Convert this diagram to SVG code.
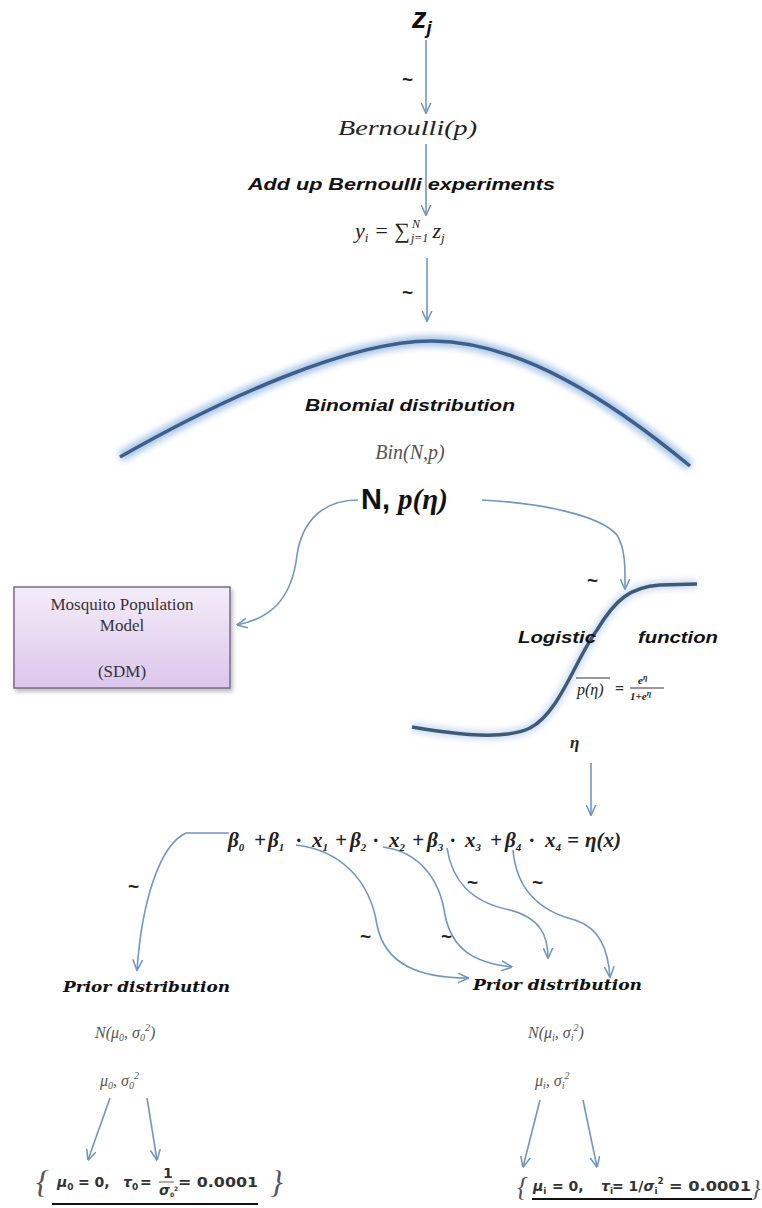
<svg xmlns="http://www.w3.org/2000/svg" width="762" height="1208" viewBox="0 0 762 1208">
<defs>
<style>
.con{fill:none;stroke:#6f97c2;stroke-width:1.6}
.bi{font-family:"Liberation Sans",Arial,sans-serif;font-weight:bold;font-style:italic;fill:#111}
.ms{font-family:"Liberation Serif","Times New Roman",serif;font-style:italic;fill:#222}
.gr{font-family:"Liberation Serif","Times New Roman",serif;font-style:italic;fill:#555}
.pr{font-family:"DejaVu Serif",serif;font-weight:bold;font-style:italic;fill:#111}
.til{font-family:"Liberation Sans",Arial,sans-serif;font-weight:bold;font-size:19px;fill:#222}
.eq{font-family:"Liberation Serif","Times New Roman",serif;font-weight:bold;font-style:italic;font-size:21px;fill:#222}
.sub{font-size:11px}
.bx{font-family:"Liberation Serif","Times New Roman",serif;font-size:17px;fill:#333}
.hp{font-family:"Liberation Serif","Times New Roman",serif;font-size:16px;fill:#333;font-weight:bold}
.hs{font-family:"DejaVu Sans",sans-serif;font-size:14px;fill:#333;font-weight:bold}
</style>
<marker id="ah" viewBox="0 0 10 10" refX="9.5" refY="5" markerWidth="11" markerHeight="11" markerUnits="userSpaceOnUse" orient="auto">
<path d="M0,0.5 L10,5 L0,9.5" fill="none" stroke="#6f97c2" stroke-width="1.4"/>
</marker>
<linearGradient id="boxg" x1="0" y1="0" x2="0" y2="1">
<stop offset="0" stop-color="#f4ecf8"/>
<stop offset="1" stop-color="#dcc6ec"/>
</linearGradient>
<filter id="glow" x="-10%" y="-30%" width="120%" height="160%">
<feGaussianBlur stdDeviation="3"/>
</filter>
<filter id="shd" x="-10%" y="-10%" width="130%" height="130%">
<feDropShadow dx="2" dy="3" stdDeviation="2" flood-color="#777" flood-opacity="0.5"/>
</filter>
</defs>
<rect width="762" height="1208" fill="#ffffff"/>

<g id="connectors">
<line class="con" x1="426" y1="40" x2="426" y2="113" marker-end="url(#ah)"/>
<line class="con" x1="426" y1="144" x2="426" y2="215" marker-end="url(#ah)"/>
<line class="con" x1="427" y1="258" x2="427" y2="321" marker-end="url(#ah)"/>
<path class="con" d="M358,500 C322,500 302,522 297,555 C292,598 272,618 237,625" marker-end="url(#ah)"/>
<path class="con" d="M482,500 C540,503 600,515 617,535 C626,550 625,570 625,589" marker-end="url(#ah)"/>
<line class="con" x1="591" y1="763" x2="591" y2="815" marker-end="url(#ah)"/>
<path class="con" d="M229,833 L186,833 C160,845 142,900 137,970" marker-end="url(#ah)"/>
<path class="con" d="M296,845 C340,850 370,880 377,925 C385,965 420,978 468,978" marker-end="url(#ah)"/>
<path class="con" d="M383,847 C420,852 440,880 445,915 C452,950 475,963 512,967" marker-end="url(#ah)"/>
<path class="con" d="M447,848 C452,880 470,902 510,910 C540,918 548,935 548,958" marker-end="url(#ah)"/>
<path class="con" d="M513,850 C516,885 535,910 575,920 C600,928 608,950 610,977" marker-end="url(#ah)"/>
<line class="con" x1="110" y1="1098" x2="88" y2="1160" marker-end="url(#ah)"/>
<line class="con" x1="147" y1="1098" x2="157" y2="1160" marker-end="url(#ah)"/>
<line class="con" x1="540" y1="1100" x2="523" y2="1167" marker-end="url(#ah)"/>
<line class="con" x1="583" y1="1100" x2="597" y2="1167" marker-end="url(#ah)"/>
</g>

<g id="tildes">
<text class="til" x="402" y="86">~</text>
<text class="til" x="402" y="299">~</text>
<text class="til" x="587" y="587">~</text>
<text class="til" x="128" y="893">~</text>
<text class="til" x="360" y="943">~</text>
<text class="til" x="441" y="943">~</text>
<text class="til" x="467" y="889">~</text>
<text class="til" x="532" y="889">~</text>
</g>

<g id="n-zj">
<text class="bi" x="412" y="28" font-size="29">z<tspan dy="6" font-size="19">j</tspan></text>
</g>

<g id="n-bernoulli">
<text class="ms" x="338" y="135" font-size="20" textLength="139" lengthAdjust="spacingAndGlyphs">Bernoulli(p)</text>
</g>

<g id="n-addup">
<text class="bi" x="248" y="190" font-size="16" textLength="307" lengthAdjust="spacingAndGlyphs">Add up Bernoulli experiments</text>
</g>

<g id="n-sum">
<text class="ms" x="355" y="238" font-size="22">y<tspan dy="4" font-size="13">i</tspan><tspan dy="-4"> = ∑</tspan><tspan dy="-10" font-size="12" dx="2">N</tspan><tspan dy="14" dx="-9" font-size="12">j=1</tspan><tspan dy="-4" dx="4">z</tspan><tspan dy="4" font-size="13">j</tspan></text>
</g>

<g id="n-binomial">
<path d="M120,457 C220,400 350,340 433,341 C520,342 610,400 690,466" fill="none" stroke="#a9c6e6" stroke-width="11" filter="url(#glow)"/>
<path d="M120,457 C220,400 350,340 433,341 C520,342 610,400 690,466" fill="none" stroke="#3d5f8e" stroke-width="3.5"/>
<text class="bi" x="410" y="411" font-size="17" text-anchor="middle" textLength="210" lengthAdjust="spacingAndGlyphs">Binomial distribution</text>
<text class="gr" x="410" y="459" font-size="20" text-anchor="middle">Bin(N,p)</text>
</g>

<g id="n-np">
<text x="361" y="509" font-size="29"><tspan font-family="Liberation Sans,Arial,sans-serif" font-weight="bold" fill="#111">N, </tspan><tspan font-family="Liberation Serif,Times New Roman,serif" font-weight="bold" font-style="italic" fill="#111">p(η)</tspan></text>
</g>

<g id="n-sdm">
<rect x="14" y="587" width="216" height="101" fill="url(#boxg)" stroke="#7a6a8c" stroke-width="1.5" filter="url(#shd)"/>
<text class="bx" x="122" y="610" text-anchor="middle">Mosquito Population</text>
<text class="bx" x="122" y="631" text-anchor="middle">Model</text>
<text class="bx" x="122" y="677" text-anchor="middle">(SDM)</text>
</g>

<g id="n-logistic">
<path d="M412,727 C460,735 505,740 530,728 C560,712 575,660 597,630 C615,600 630,587 660,585 L697,584" fill="none" stroke="#a9c6e6" stroke-width="9" filter="url(#glow)" opacity="0.6"/>
<path d="M412,727 C460,735 505,740 530,728 C560,712 575,660 597,630 C615,600 630,587 660,585 L697,584" fill="none" stroke="#3f5a78" stroke-width="3.5"/>
<text class="bi" x="518" y="643" font-size="17" textLength="78" lengthAdjust="spacingAndGlyphs">Logistic</text>
<text class="bi" x="638" y="643" font-size="17" textLength="80" lengthAdjust="spacingAndGlyphs">function</text>
<line x1="576" y1="678" x2="610" y2="678" stroke="#333" stroke-width="1"/>
<text class="ms" x="577" y="695" font-size="16">p(η)</text>
<text class="hp" x="615" y="694">=</text>
<text class="ms" x="638" y="684" font-size="11" font-weight="bold">e<tspan dy="-4" font-size="8">η</tspan></text>
<line x1="630" y1="688" x2="664" y2="688" stroke="#333" stroke-width="1"/>
<text class="ms" x="630" y="700" font-size="11" font-weight="bold">1+e<tspan dy="-4" font-size="8">η</tspan></text>
<text class="ms" x="570" y="748" font-size="17" font-weight="bold">η</text>
</g>

<g id="n-equation">
<text class="eq" y="847"><tspan x="228">β</tspan><tspan class="sub" dy="4">0</tspan><tspan dy="-4" x="254">+</tspan><tspan x="268">β</tspan><tspan class="sub" dy="4">1</tspan><tspan dy="-4" x="296">·</tspan><tspan x="312">x</tspan><tspan class="sub" dy="4">1</tspan><tspan dy="-4" x="335">+</tspan><tspan x="350">β</tspan><tspan class="sub" dy="4">2</tspan><tspan dy="-4" x="373">·</tspan><tspan x="389">x</tspan><tspan class="sub" dy="4">2</tspan><tspan dy="-4" x="412">+</tspan><tspan x="427">β</tspan><tspan class="sub" dy="4">3</tspan><tspan dy="-4" x="450">·</tspan><tspan x="465">x</tspan><tspan class="sub" dy="4">3</tspan><tspan dy="-4" x="490">+</tspan><tspan x="505">β</tspan><tspan class="sub" dy="4">4</tspan><tspan dy="-4" x="529">·</tspan><tspan x="545">x</tspan><tspan class="sub" dy="4">4</tspan><tspan dy="-4" x="567">=</tspan><tspan x="585">η(x)</tspan></text>
</g>

<g id="n-prior0">
<text class="pr" x="63" y="992" font-size="15" textLength="167" lengthAdjust="spacingAndGlyphs">Prior distribution</text>
<text class="gr" x="95" y="1038" font-size="16">N(μ<tspan dy="3" font-size="10">0</tspan><tspan dy="-3">, σ</tspan><tspan dy="3" font-size="10">0</tspan><tspan dy="-10" font-size="10">2</tspan><tspan dy="7">)</tspan></text>
<text class="gr" x="100" y="1086" font-size="16">μ<tspan dy="3" font-size="10">0</tspan><tspan dy="-3">,   σ</tspan><tspan dy="3" font-size="10">0</tspan><tspan dy="-10" font-size="10">2</tspan></text>
</g>

<g id="n-hyper0">
<text class="gr" x="36" y="1193" font-size="32" font-style="normal" fill="#444">{</text>
<text class="hs" x="57" y="1187"><tspan font-style="italic">μ</tspan><tspan dy="3" font-size="9">0</tspan><tspan dy="-3" x="78">= 0,</tspan></text>
<text class="hs" x="123" y="1187"><tspan font-style="italic">τ</tspan><tspan dy="3" font-size="9">0</tspan><tspan dy="-3" x="140">=</tspan></text>
<text class="hs" x="163" y="1178" font-size="9">1</text>
<line x1="159" y1="1182" x2="174" y2="1182" stroke="#333" stroke-width="0.8"/>
<text class="hs" x="159" y="1195" font-size="9"><tspan font-style="italic">σ</tspan><tspan dy="2" font-size="6">0</tspan><tspan dy="-6" font-size="6">2</tspan></text>
<text class="hs" x="178" y="1187" textLength="80" lengthAdjust="spacingAndGlyphs">= 0.0001</text>
<text class="gr" x="270" y="1193" font-size="32" font-style="normal" fill="#444">}</text>
<line x1="52" y1="1204" x2="258" y2="1204" stroke="#111" stroke-width="2"/>
</g>

<g id="n-prior1">
<text class="pr" x="473" y="990" font-size="15" textLength="169" lengthAdjust="spacingAndGlyphs">Prior distribution</text>
<text class="gr" x="528" y="1038" font-size="16">N(μ<tspan dy="3" font-size="10">i</tspan><tspan dy="-3">, σ</tspan><tspan dy="3" font-size="10">i</tspan><tspan dy="-10" font-size="10">2</tspan><tspan dy="7">)</tspan></text>
<text class="gr" x="535" y="1086" font-size="16">μ<tspan dy="3" font-size="10">i</tspan><tspan dy="-3">,   σ</tspan><tspan dy="3" font-size="10">i</tspan><tspan dy="-10" font-size="10">2</tspan></text>
</g>

<g id="n-hyper1">
<text class="gr" x="517" y="1196" font-size="27" font-style="normal" fill="#444">{</text>
<text class="hs" x="533" y="1191"><tspan font-style="italic">μ</tspan><tspan dy="3" font-size="9">i</tspan><tspan dy="-3" x="552">= 0,</tspan></text>
<text class="hs" x="601" y="1191"><tspan font-style="italic">τ</tspan><tspan dy="3" font-size="9">i</tspan><tspan dy="-3" x="612">= 1/</tspan><tspan font-style="italic">σ</tspan><tspan dy="3" font-size="9">i</tspan><tspan dy="-10" font-size="9">2</tspan></text>
<text class="hs" x="669" y="1191" textLength="82" lengthAdjust="spacingAndGlyphs">= 0.0001</text>
<text class="gr" x="751" y="1196" font-size="24" font-style="normal" fill="#444">}</text>
<line x1="532" y1="1199" x2="752" y2="1199" stroke="#111" stroke-width="2"/>
</g>
</svg>
